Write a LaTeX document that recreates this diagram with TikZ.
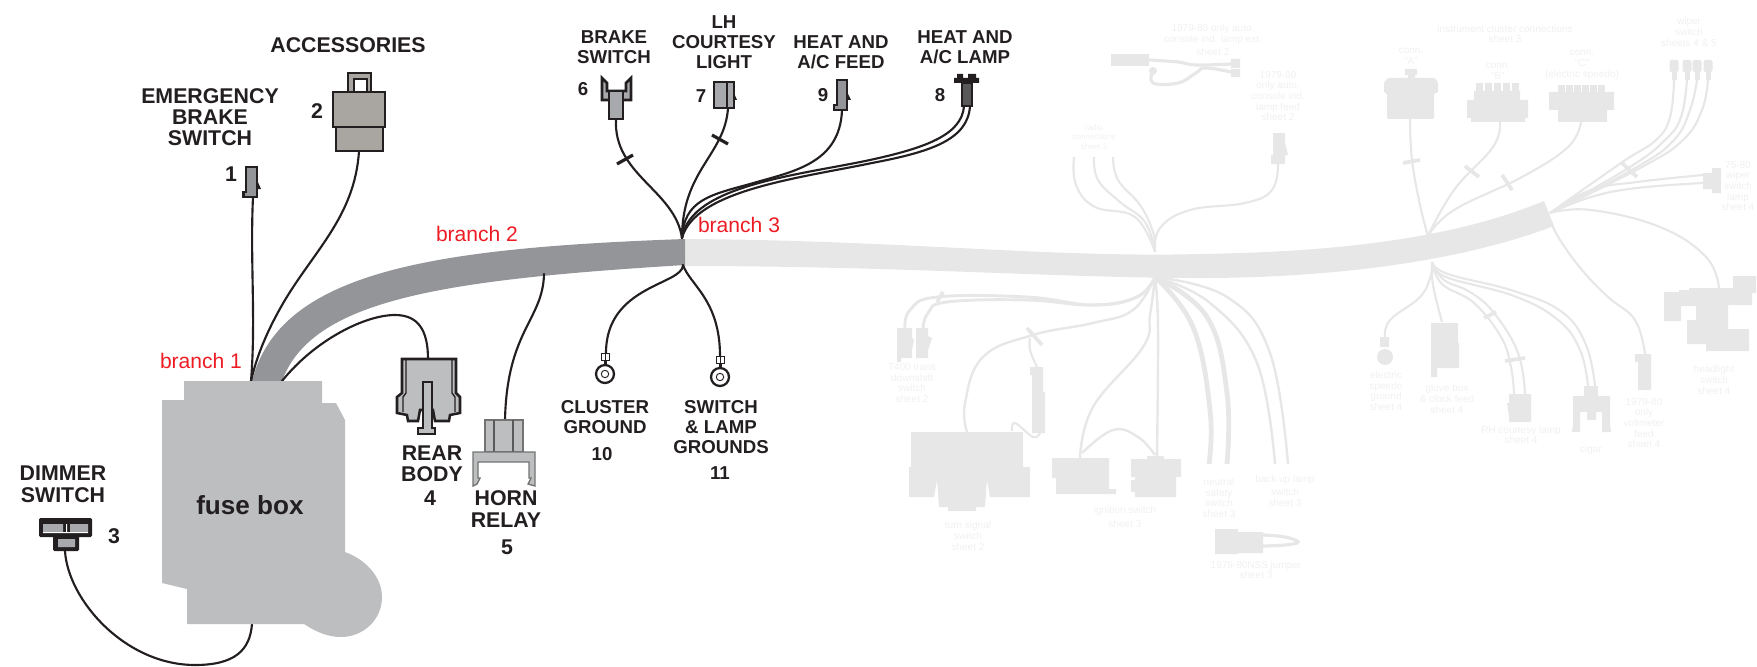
\documentclass[tikz,border=0pt]{standalone}
\usepackage{fontspec}
\setmainfont{Liberation Sans}
\usepackage{xcolor}
\definecolor{inkc}{HTML}{231F20}
\definecolor{loomc}{HTML}{939598}
\definecolor{boxc}{HTML}{BCBEC0}
\definecolor{plugc}{HTML}{A7A9AC}
\definecolor{fadec}{HTML}{E7E7E7}
\definecolor{fadetxt}{HTML}{F0F0F0}
\definecolor{redc}{HTML}{ED1C24}
\tikzset{
	wire/.style={draw=inkc,line width=1.6pt,line cap=round},
	fwire/.style={draw=fadec,line width=1.6pt},
	fthick/.style={draw=fadec,line width=3.6pt},
	ftick/.style={draw=fadec,line width=2.8pt},
	tick/.style={draw=inkc,line width=2.4pt},
	plug/.style={draw=inkc,line width=1.7pt,fill=plugc,line join=miter},
	biglbl/.style={inner sep=0pt,align=center,text=inkc,font=\fontsize{16}{15.5}\selectfont\bfseries},
	lbl/.style={inner sep=0pt,align=center,text=inkc,font=\fontsize{14}{15.2}\selectfont\bfseries},
	redlbl/.style={inner sep=0pt,text=redc,font=\fontsize{15.8}{16}\selectfont},
	flbl/.style={inner sep=0pt,align=center,text=fadetxt,font=\fontsize{7.5}{8}\selectfont},
	fsmall/.style={inner sep=0pt,align=center,text=fadetxt,font=\fontsize{6}{7}\selectfont},
}
\begin{document}
\begin{tikzpicture}[x=0.75pt,y=-0.75pt]
	\useasboundingbox (0,0) rectangle (1757,667);
	\def\tens{0.7}

	\coordinate (brThree) at (682,238);
	\coordinate (brThreeLow) at (683,265);
	\coordinate (jA) at (1155,252);
	\coordinate (jB) at (1155,277);
	\coordinate (jC) at (1428,236);
	\coordinate (jD) at (1550,213);
	\coordinate (jE) at (1432,262);

	% faded harness
	\fill[fadec] (683,239) .. controls (900,240) and (1050,258) .. (1200,254) .. controls (1330,252) and (1450,240) .. (1544,201) -- (1554,226) .. controls (1460,262) and (1330,278) .. (1200,278) .. controls (1060,278) and (900,266) .. (683,266) -- cycle;

	\draw[fwire] plot[smooth,tension=\tens] coordinates {(1074,157) (1076,185) (1095,207) (1135,217) (jA)};
	\draw[fwire] plot[smooth,tension=\tens] coordinates {(1094,157) (1098,180) (1120,202) (1145,222) (jA)};
	\draw[fwire] plot[smooth,tension=\tens] coordinates {(1113,157) (1118,180) (1140,205) (1153,232) (jA)};
	\draw[fwire] plot[smooth,tension=\tens] coordinates {(1278,164) (1272,190) (1245,203) (1190,210) (1160,228) (jA)};

	\fill[fadec] (1111,54) rectangle (1149,66);
	\draw[fwire,line width=2.4pt] plot[smooth,tension=\tens] coordinates {(1149,60) (1178,62) (1196,65) (1231,64)};
	\draw[fwire,line width=2.4pt] plot[smooth,tension=\tens] coordinates {(1153,71) (1153,83) (1178,83) (1196,73) (1205,68) (1231,72)};
	\fill[fadec] (1153,71) circle (4);
	\fill[fadec] (1231,59) rectangle (1240,68) (1231,69) rectangle (1240,77);
	\fill[fadec] (1273,133) rectangle (1285,155) (1271,155) rectangle (1285,164) (1285,143) -- (1288,155) -- (1285,155) -- cycle;

	\fill[fadec] (1405,69) rectangle (1417,75) (1408,75) rectangle (1415,87);
	\fill[fadec,rounded corners=1pt] (1388,78) -- (1435,78) -- (1438,82) -- (1438,93) -- (1434,93) -- (1434,119) -- (1387,119) -- (1387,93) -- (1384,93) -- (1384,82) -- cycle;
	\foreach \tx in {1476,1485,1494,1503,1512} \fill[fadec] (\tx,83) rectangle ++(7,9);
	\fill[fadec] (1474,91) rectangle (1520,100) (1467,100) rectangle (1528,118) (1471,118) rectangle (1525,122);
	\foreach \tx in {1558,1566,1574,1582,1590,1598} \fill[fadec] (\tx,85) rectangle ++(7,8);
	\fill[fadec] (1549,92) rectangle (1614,110) (1558,110) rectangle (1607,122);

	\draw[fwire] plot[smooth,tension=\tens] coordinates {(1410,119) (1412,160) (1420,205) (jC)};
	\draw[fwire] plot[smooth,tension=\tens] coordinates {(1500,122) (1493,147) (1454,190) (jC)};
	\draw[fwire] plot[smooth,tension=\tens] coordinates {(1581,122) (1568,147) (1522,177) (1454,210) (jC)};
	\draw[ftick] (1403,163) -- (1420,160);
	\draw[ftick] (1465,166) -- (1479,177);
	\draw[ftick] (1502,175) -- (1512,190);

	\foreach \wx in {1674,1687,1697,1708} {
		\fill[fadec,rounded corners=1.5pt] (\wx-4.5,60) rectangle (\wx+4.5,72);
		\fill[fadec] (\wx-2.5,70) rectangle (\wx+2.5,80);
	}
	\draw[fwire] plot[smooth,tension=\tens] coordinates {(1674,80) (1670,117) (1656,140) (1621,163) (jD)};
	\draw[fwire] plot[smooth,tension=\tens] coordinates {(1687,80) (1681,117) (1665,140) (1630,167) (jD)};
	\draw[fwire] plot[smooth,tension=\tens] coordinates {(1697,80) (1690,110) (1674,140) (1637,167) (jD)};
	\draw[fwire] plot[smooth,tension=\tens] coordinates {(1708,80) (1702,110) (1683,140) (1642,167) (jD)};
	\draw[ftick] (1621,162) -- (1637,177);
	\fill[fadec] (1703,173) rectangle (1712,189) (1712,168) rectangle (1721,193);
	\draw[fwire] plot[smooth,tension=\tens] coordinates {(1703,175) (1637,182) (1591,190) (jD)};
	\draw[fwire] plot[smooth,tension=\tens] coordinates {(1703,183) (1637,188) (1591,197) (jD)};
	\draw[fwire] plot[smooth,tension=\tens] coordinates {(jD) (1591,210) (1660,227) (1706,257) (1719,288)};
	\draw[fwire] plot[smooth,tension=\tens] coordinates {(1550,220) (1560,240) (1582,270) (1608,297) (1635,320) (1645,354)};

	\fill[fadec] (1664,292) -- (1679,292) -- (1679,290) -- (1689,290) -- (1689,288) -- (1733,288) -- (1733,276) -- (1756,276) -- (1756,293) -- (1752,293) -- (1752,305) -- (1728,305) -- (1728,329) -- (1749,329) -- (1749,351) -- (1706,351) -- (1706,344) -- (1687,344) -- (1687,320) -- (1696,320) -- (1696,306) -- (1681,306) -- (1681,321) -- (1664,321) -- cycle;
	\fill[fadec] (1635,354) rectangle (1651,362) (1638,362) rectangle (1651,390);

	\draw[fwire] plot[smooth,tension=\tens] coordinates {(jE) (1431,275) (1420,297) (1390,320) (1385,338)};
	\fill[fadec] (1380,337) rectangle (1389,347) (1385,357) circle (8);
	\draw[fwire] plot[smooth,tension=\tens] coordinates {(jE) (1433,285) (1442,322)};
	\fill[fadec] (1431,323) -- (1458,323) -- (1458,343) -- (1459,343) -- (1459,368) -- (1437,368) -- (1437,377) -- (1431,377) -- cycle;
	\draw[fwire] plot[smooth,tension=\tens] coordinates {(jE) (1442,284) (1474,303) (1501,337) (1511,367) (1514,394)};
	\draw[fwire] plot[smooth,tension=\tens] coordinates {(jE) (1444,280) (1470,292) (1494,313) (1518,353) (1525,394)};
	\draw[ftick] (1484,318) -- (1496,312);
	\draw[ftick] (1505,361) -- (1525,358);
	\fill[fadec] (1509,394) rectangle (1531,422) (1509,403) -- (1507,403) -- (1509,417) -- cycle;
	\draw[fwire] plot[smooth,tension=\tens] coordinates {(jE) (1446,277) (1514,296) (1558,320) (1580,350) (1588,386)};
	\draw[fwire] plot[smooth,tension=\tens] coordinates {(jE) (1448,274) (1514,291) (1562,312) (1586,345) (1595,386)};
	\fill[fadec] (1584,386) rectangle (1598,396);
	\fill[fadec] (1573,396) -- (1610,396) -- (1610,424) -- (1611,432) -- (1602,432) -- (1602,412) -- (1596,412) -- (1596,420) -- (1587,420) -- (1587,412) -- (1580,412) -- (1580,432) -- (1572,432) -- (1573,424) -- cycle;

	\draw[fwire,line width=2.2pt] plot[smooth,tension=\tens] coordinates {(905,328) (910,310) (937,297) (1027,297) (1093,305) (1137,297) (jB)};
	\draw[fwire,line width=2.2pt] plot[smooth,tension=\tens] coordinates {(923,328) (928,313) (947,302) (1027,300) (1093,305) (1137,297) (jB)};
	\draw[ftick] (943,292) -- (937,302);
	\fill[fadec] (897,328) rectangle (912,358) (897,358) rectangle (901,362) (912,338) -- (914,340) -- (912,350) -- cycle;
	\fill[fadec] (916,328) rectangle (928,358) (928,336) -- (932,338) -- (928,350) -- cycle;
	\draw[fwire,line width=1.8pt] plot[smooth,tension=\tens] coordinates {(jB) (1133,310) (1093,323) (1033,335) (983,357) (965,403) (967,432)};
	\draw[ftick] (1027,328) -- (1042,345);
	\draw[fwire] plot[smooth,tension=\tens] coordinates {(1030,338) (1030,350) (1037,367)};
	\draw[fwire] plot[smooth,tension=\tens] coordinates {(1012,431) (1015,423) (1033,437) (1040,433)};
	\fill[fadec] (1030,367) rectangle (1043,375) (1032,375) rectangle (1043,392) (1032,392) rectangle (1045,433);
	\fill[fadec] (911,432) -- (1023,432) -- (1023,467) -- (1030,467) -- (1030,497) -- (990,497) -- (987,480) -- (985,507) -- (976,507) -- (976,511) -- (948,511) -- (948,507) -- (939,507) -- (937,480) -- (934,497) -- (909,497) -- (909,467) -- (911,467) -- cycle;

	\draw[fwire,line width=1.8pt] plot[smooth,tension=\tens] coordinates {(jB) (1150,315) (1143,347) (1093,407) (1080,458)};
	\draw[fwire,line width=1.8pt] plot[smooth,tension=\tens] coordinates {(jB) (1158,327) (1157,457)};
	\draw[fwire,line width=1.8pt] plot[smooth,tension=\tens] coordinates {(1082,453) (1113,430) (1138,437) (1155,455)};
	\fill[fadec] (1052,458) rectangle (1109,478) (1056,478) rectangle (1109,494) (1109,489) rectangle (1116,494);
	\fill[fadec] (1147,456) rectangle (1164,460) (1131,459) rectangle (1181,477) (1135,477) rectangle (1176,497) (1131,480) rectangle (1136,492);
	\draw[fthick] plot[smooth,tension=\tens] coordinates {(jB) (1193,327) (1210,410) (1209,464)};
	\draw[fthick] plot[smooth,tension=\tens] coordinates {(jB) (1207,317) (1227,393) (1227,464)};
	\draw[fwire,line width=1.8pt] plot[smooth,tension=\tens] coordinates {(jB) (1210,303) (1257,363) (1275,464)};
	\draw[fwire,line width=1.8pt] plot[smooth,tension=\tens] coordinates {(jB) (1227,297) (1270,353) (1288,464)};
	\fill[fadec] (1215,529) rectangle (1238,554) (1238,532) rectangle (1263,553);
	\draw[fwire,line width=2.4pt] plot[smooth,tension=\tens] coordinates {(1263,535) (1285,537) (1298,542) (1285,545) (1263,546)};

	\node[fsmall] (txtRadio) at (1094,137) {radio\\connections\\sheet 3};
	\node[flbl] (txtConsole) at (1213,40) {1979-80 only auto.\\console ind. lamp ext.\\[2pt]sheet 2};
	\node[flbl] (txtFeed) at (1278,96) {1979-80\\only auto.\\console ind.\\lamp feed\\sheet 2};
	\node[flbl] (txtCluster) at (1505,34) {instrument cluster connections\\sheet 3};
	\node[flbl] (txtConnA) at (1411,56) {conn.\\``A''};
	\node[flbl] (txtConnB) at (1498,71) {conn.\\``B''};
	\node[flbl] (txtConnC) at (1582,65) {conn.\\``C''\\(electric speedo)};
	\node[flbl] (txtWiper) at (1689,32) {wiper\\switch\\sheets 4 \& 5};
	\node[flbl] (txtLamp) at (1738,186) {75-80\\wiper\\switch\\lamp\\sheet 4};
	\node[flbl] (txtSpeedo) at (1386,391) {electric\\speedo\\ground\\sheet 4};
	\node[flbl] (txtGlove) at (1447,399) {glove box\\\& clock feed\\sheet 4};
	\node[flbl] (txtCourtesy) at (1521,435) {RH courtesy lamp\\sheet 4};
	\node[flbl] (txtCigar) at (1591,450) {cigar};
	\node[flbl] (txtVolt) at (1644,423) {1979-80\\only\\voltmeter\\feed\\sheet 4};
	\node[flbl] (txtHead) at (1714,380) {headlight\\switch\\sheet 4};
	\node[flbl] (txtTrans) at (912,383) {T400 trans\\downshift\\switch\\sheet 2};
	\node[flbl] (txtTurn) at (968,536) {turn signal\\switch\\sheet 2};
	\node[flbl] (txtIgn) at (1125,517) {ignition switch\\[2pt]sheet 3};
	\node[flbl] (txtNeutral) at (1219,498) {neutral\\safety\\switch\\sheet 3};
	\node[flbl] (txtBack) at (1285,491) {back up lamp\\[2pt]switch\\sheet 3};
	\node[flbl] (txtJumper) at (1256,570) {1979-80NSS jumper\\sheet 3};

	% loom and fuse box
	\coordinate (fuseTopA) at (251,381);
	\coordinate (fuseTopB) at (282,381);
	\coordinate (fuseLow) at (252,624);
	\fill[loomc] (252,381) .. controls (280,272) and (430,248) .. (685,239) -- (685,265) .. controls (440,280) and (312,300) .. (282,381) -- cycle;

	\coordinate (plugOne) at (253,197);
	\coordinate (plugTwo) at (359,151);
	\coordinate (plugThree) at (65,551);
	\coordinate (plugFour) at (428,359);
	\coordinate (plugFive) at (505,420);
	\coordinate (plugSix) at (616,119);
	\coordinate (plugSeven) at (728,108);
	\coordinate (plugNine) at (842,110);
	\coordinate (plugEightA) at (964,106);
	\coordinate (plugEightB) at (970,106);
	\coordinate (gndTen) at (606,353);
	\coordinate (gndEleven) at (720,356);
	\coordinate (hornTap) at (544,274);

	\draw[wire] (plugOne) .. controls (250,260) and (256,320) .. (fuseTopA);
	\draw[wire] (plugTwo) .. controls (355,215) and (315,250) .. (285,300) .. controls (272,322) and (258,350) .. (fuseTopA);
	\draw[wire] (fuseTopB) .. controls (315,340) and (365,315) .. (395,315) .. controls (418,315) and (428,330) .. (plugFour);
	\draw[wire] (hornTap) .. controls (543,320) and (507,330) .. (plugFive);
	\draw[wire] (plugThree) .. controls (68,600) and (125,665) .. (195,665) .. controls (235,665) and (250,650) .. (fuseLow);

	\draw[wire] (plugSix) .. controls (613,175) and (675,190) .. (brThree);
	\draw[wire] (plugSeven) .. controls (725,155) and (682,170) .. (brThree);
	\draw[wire] (plugNine) .. controls (840,165) and (790,172) .. (750,184) .. controls (710,195) and (684,200) .. (brThree);
	\draw[wire] (plugEightA) .. controls (962,135) and (925,148) .. (870,160) .. controls (800,175) and (690,185) .. (brThree);
	\draw[wire] (plugEightB) .. controls (968,140) and (930,152) .. (872,163) .. controls (800,178) and (695,190) .. (brThree);
	\draw[tick] (617,164) -- (633,155);
	\draw[tick] (712,135) -- (728,144);
	\draw[wire] (brThreeLow) .. controls (683,285) and (606,285) .. (gndTen);
	\draw[wire] (brThreeLow) .. controls (690,285) and (720,300) .. (gndEleven);

	\fill[boxc] (184,381) -- (322,381) -- (322,403) -- (336,403) -- (345,420) -- (345,552) .. controls (367,560) and (382,578) .. (382,597) .. controls (382,620) and (363,637) .. (341,637) .. controls (328,637) and (316,632) .. (304,624) -- (187,624) -- (187,589) -- (162,583) -- (162,400) -- (184,400) -- cycle;

	% connectors
	\draw[plug,line width=1.5pt,fill=plugc!90!brown] (348,73) rectangle (371,92);
	\draw[line width=1.5pt,draw=inkc,fill=white] (354,79) rectangle (367,92);
	\draw[plug,line width=1.5pt,fill=plugc!90!brown] (333,92) rectangle (385,127);
	\draw[plug,line width=1.5pt,fill=plugc!90!brown] (336,127) rectangle (383,151);

	\draw[plug,fill=loomc] (246,167) -- (257,167) -- (257,197) -- (243.5,197) -- (243.5,192) -- (246,192) -- cycle;
	\fill[inkc] (257,180) -- (261,189) -- (257,189) -- cycle;

	\draw[plug,line width=2pt] (602,78) -- (607,83) -- (607,91) -- (626,91) -- (626,83) -- (631,78) -- (631,100) -- (602,100) -- cycle;
	\draw[plug] (609,91) rectangle (623,119);

	\draw[plug] (714,82) rectangle (734,108);
	\draw[inkc,line width=1pt] (727,82) -- (727,108);
	\fill[inkc] (734,93) -- (737,100) -- (734,100) -- cycle;

	\draw[plug,fill=loomc,line width=1.8pt] (837,80) -- (847,80) -- (847,110) -- (834,110) -- (834,105) -- (837,105) -- cycle;
	\fill[inkc] (847,92) -- (851,100) -- (847,100) -- cycle;

	\fill[inkc] (954,78) rectangle (979,83) (957,74) rectangle (963,78) (968,74) rectangle (976,78);
	\draw[plug,fill=black!65] (962,83) rectangle (972,106);

	\draw[plug,line width=1.9pt,fill=boxc] (402,359) -- (456,359) -- (456,393) -- (460,397) -- (460,413) -- (450,415) -- (449,421) -- (435,421) -- (433,410) -- (420,410) -- (418,421) -- (408,421) -- (407,415) -- (397,413) -- (397,397) -- (402,393) -- cycle;
	\draw[inkc,line width=1pt] (406,360) -- (406,393) -- (403,397) -- (403,412);
	\draw[inkc,line width=1pt] (452,360) -- (452,393) -- (455,397) -- (455,412);
	\draw[plug,line width=1.7pt,fill=boxc] (423,382) -- (432,382) -- (432,428) -- (435,428) -- (435,434) -- (418,434) -- (418,428) -- (423,428) -- cycle;

	\draw[draw=black!55,fill=boxc,line width=1pt] (485,420) rectangle (523,452);
	\draw[draw=black!65,line width=1pt] (494,420) -- (494,452) (513,420) -- (513,452);
	\draw[draw=black!55,fill=boxc,line width=1pt] (473,452) -- (535,452) -- (535,486) -- (528,484) -- (531,478) -- (529,478) -- (529,462) -- (478,462) -- (478,478) -- (480,478) -- (477,484) -- (473,486) -- cycle;

	\fill[inkc,rounded corners=1pt] (39,518) rectangle (92,537) (53,535) rectangle (79,551);
	\fill[plugc] (43,524) rectangle (63,532) (70,524) rectangle (88,532) (58,539) rectangle (75,547);
	\fill[white] (43,532) rectangle (66,533.2) (66,524) rectangle (67,533) (67,532) rectangle (88,533.2);

	\foreach \gx/\gy in {605/374,720/377} {
		\draw[draw=inkc,line width=1.7pt,fill=white] (\gx,\gy) circle (9);
		\draw[draw=inkc,line width=0.7pt] (\gx,\gy) circle (3.7);
		\fill[inkc] (\gx-1.5,\gy-15) rectangle (\gx+1.5,\gy-8);
		\draw[draw=inkc,line width=0.7pt,fill=white] (\gx-4,\gy-21) rectangle (\gx+4,\gy-14);
		\draw[draw=inkc,line width=0.6pt] (\gx,\gy-21) -- (\gx,\gy-14);
	}

	% labels
	\node[biglbl] (lblAcc) at (348,45) {ACCESSORIES};
	\node[biglbl] (lblEmerg) at (210,117) {EMERGENCY\\BRAKE\\SWITCH};
	\node[biglbl] (numTwo) at (317,111) {2};
	\node[biglbl] (numOne) at (231,174) {1};
	\node[biglbl] (lblDimmer) at (63,484) {DIMMER\\[1pt]SWITCH};
	\node[biglbl] (numThree) at (114,536) {3};
	\node[biglbl,font=\fontsize{19.6}{20}\selectfont\bfseries] (lblFuse) at (250,505) {fuse box};
	\node[biglbl] (lblRear) at (432,464) {REAR\\[0.5pt]BODY};
	\node[biglbl] (numFour) at (430,498) {4};
	\node[biglbl] (lblHorn) at (506,509) {HORN\\[0.5pt]RELAY};
	\node[biglbl] (numFive) at (507,547) {5};
	\node[lbl] (lblBrake) at (614,47) {BRAKE\\SWITCH};
	\node[lbl] (numSix) at (583,89) {6};
	\node[lbl] (lblCourtesy) at (724,42) {LH\\COURTESY\\LIGHT};
	\node[lbl] (numSeven) at (701,96) {7};
	\node[lbl] (lblFeed) at (841,52) {HEAT AND\\A/C FEED};
	\node[lbl] (numNine) at (823,95) {9};
	\node[lbl] (lblLamp) at (965,47) {HEAT AND\\A/C LAMP};
	\node[lbl] (numEight) at (940,95) {8};
	\node[lbl] (lblCluster) at (605,417) {CLUSTER\\GROUND};
	\node[lbl] (numTen) at (602,454) {10};
	\node[lbl] (lblSwitch) at (721,427) {SWITCH\\\& LAMP\\GROUNDS};
	\node[lbl] (numEleven) at (720,473) {11};
	\node[redlbl] (redOne) at (201,361) {branch 1};
	\node[redlbl] (redTwo) at (477,234) {branch 2};
	\node[redlbl] (redThree) at (739,225) {branch 3};
\end{tikzpicture}
\end{document}
